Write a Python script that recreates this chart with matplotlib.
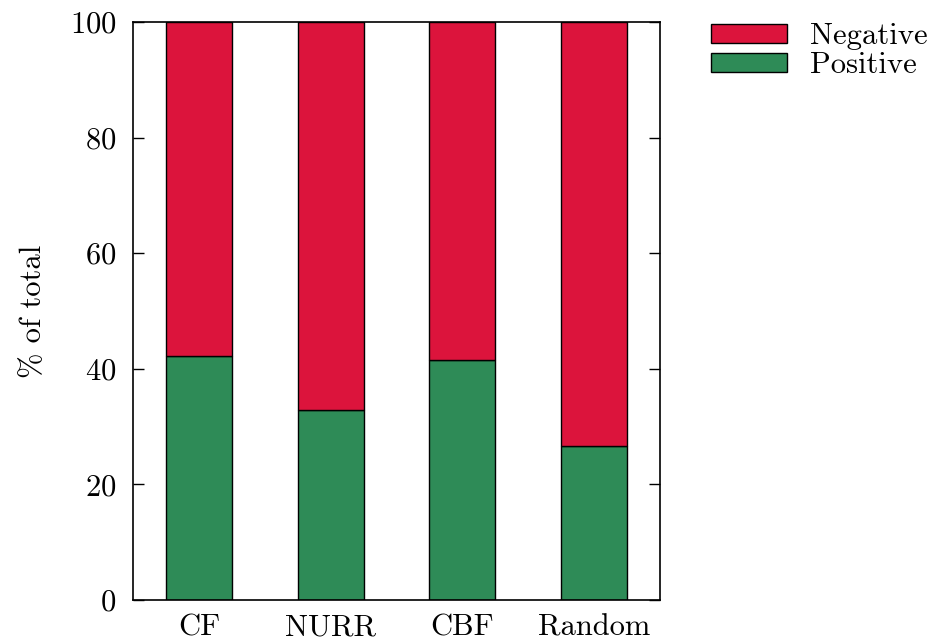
import numpy as np
import matplotlib
matplotlib.use("Agg")
from matplotlib import pyplot as plt

plt.rcParams['font.family'] = ['cmr10', 'DejaVu Serif']
plt.rcParams['axes.formatter.use_mathtext'] = True

methods = ["CF", "NURR", "CBF", "Random"]
positive = [42.3, 32.9, 41.6, 26.7]
negative = [100 - p for p in positive]

green = "#2E8B57"
red = "#DC143C"
fs = 22

fig = plt.figure(figsize=(9.32, 6.41), dpi=100)
ax = fig.add_axes([133 / 932, 41 / 641, 527 / 932, 578 / 641])

x = np.arange(len(methods))
ax.bar(x, positive, width=0.5, color=green, edgecolor="black", linewidth=1, label="Positive")
ax.bar(x, negative, width=0.5, bottom=positive, color=red, edgecolor="black", linewidth=1, label="Negative")

ax.set_xlim(-0.5, 3.5)
ax.set_ylim(0, 100)
ax.set_xticks(x)
ax.set_xticklabels(methods, fontsize=fs)
ax.tick_params(axis="x", length=0, pad=10)
ax.set_yticks([0, 20, 40, 60, 80, 100])
ax.tick_params(axis="y", direction="in", length=8, width=1, right=True, labelsize=fs, pad=12)
for s in ax.spines.values():
    s.set_linewidth(1.2)
ax.set_ylabel("% of total", fontsize=fs, labelpad=16)

# gnuplot style legend: Negative on top
h, l = ax.get_legend_handles_labels()
fig.legend(h[::-1], l[::-1], loc="upper left", bbox_to_anchor=(711 / 932, 1 - 23 / 641),
           frameon=False, fontsize=fs, handlelength=2.5, handleheight=0.55,
           handletextpad=0.75, labelspacing=0.05, borderpad=0, borderaxespad=0)

fig.savefig("out.png", dpi=100)
